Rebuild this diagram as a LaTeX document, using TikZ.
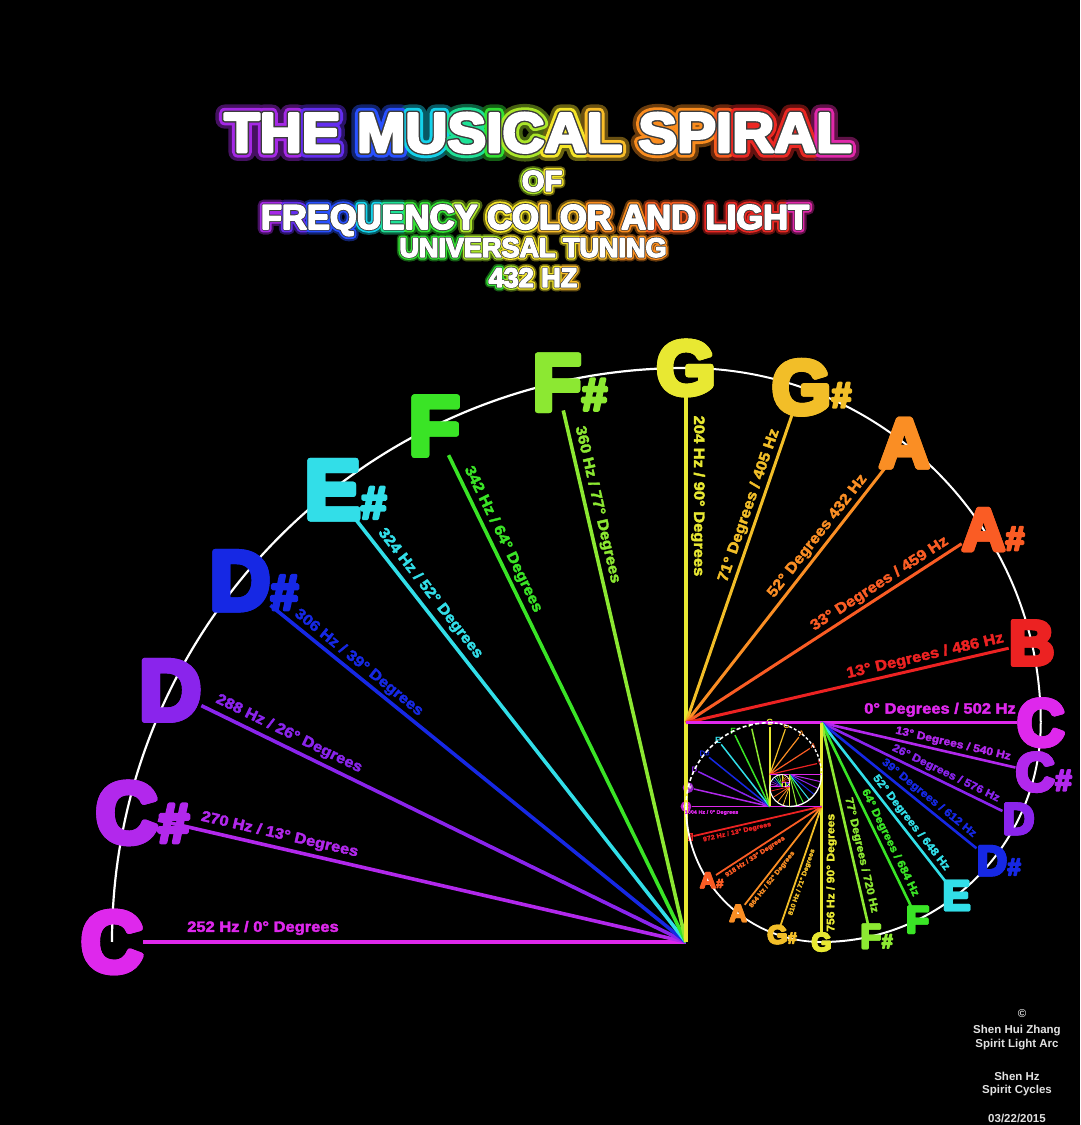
\documentclass[tikz,border=0pt]{standalone}
\usepackage{fontspec}
\setmainfont{Liberation Sans}
\newfontfamily\heavy{Liberation Sans}[BoldFeatures={FakeBold=7}]
\newfontfamily\lblfont{Liberation Sans}[BoldFeatures={FakeBold=2.5,FakeStretch=1.1}]
\newfontfamily\fW{Liberation Sans}[BoldFeatures={FakeBold=5}]
\newfontfamily\fK{Liberation Sans}[BoldFeatures={FakeBold=10}]
\newfontfamily\fGi{Liberation Sans}[BoldFeatures={FakeBold=20}]
\newfontfamily\fGo{Liberation Sans}[BoldFeatures={FakeBold=32}]
\usetikzlibrary{calc}
% note colours
\definecolor{cC}{RGB}{222,40,236}
\definecolor{cCs}{RGB}{178,40,236}
\definecolor{cD}{RGB}{138,36,236}
\definecolor{cDs}{RGB}{22,40,228}
\definecolor{cE}{RGB}{50,222,232}
\definecolor{cF}{RGB}{58,228,38}
\definecolor{cFs}{RGB}{140,232,50}
\definecolor{cG}{RGB}{232,232,50}
\definecolor{cGs}{RGB}{242,190,40}
\definecolor{cA}{RGB}{250,142,36}
\definecolor{cAs}{RGB}{250,92,36}
\definecolor{cB}{RGB}{236,34,34}
% glow colours
\definecolor{gV}{RGB}{165,40,230}
\definecolor{gI}{RGB}{100,45,240}
\definecolor{gB}{RGB}{40,80,255}
\definecolor{gCy}{RGB}{20,210,235}
\definecolor{gT}{RGB}{30,225,150}
\definecolor{gG}{RGB}{50,225,50}
\definecolor{gYG}{RGB}{170,230,40}
\definecolor{gY}{RGB}{245,230,40}
\definecolor{gYO}{RGB}{250,190,40}
\definecolor{gO}{RGB}{250,140,30}
\definecolor{gOR}{RGB}{245,90,30}
\definecolor{gR}{RGB}{235,40,35}
\definecolor{gM}{RGB}{225,40,170}
\definecolor{edge}{RGB}{60,60,60}
\definecolor{credit}{RGB}{225,225,225}
\newcommand\tA[1]{#1\bfseries\fontsize{56}{56}\selectfont}
\newcommand\tB[1]{#1\bfseries\fontsize{29}{29}\selectfont}
\newcommand\tC[1]{#1\bfseries\fontsize{34.5}{34.5}\selectfont}
\newcommand\tD[1]{#1\bfseries\fontsize{27}{27}\selectfont}
\newcommand\TA[1]{#1{gV}{T}#1{gV}{H}#1{gI}{E} #1{gB}{M}#1{gCy}{U}#1{gT}{S}#1{gG}{I}#1{gYG}{C}#1{gY}{A}#1{gYO}{L} #1{gO}{S}#1{gO}{P}#1{gOR}{I}#1{gR}{R}#1{gR}{A}#1{gM}{L}}
\newcommand\TB[1]{#1{gYG}{O}#1{gY}{F}}
\newcommand\TC[1]{#1{gV}{F}#1{gI}{R}#1{gB}{E}#1{gB}{Q}#1{gCy}{U}#1{gT}{E}#1{gG}{N}#1{gG}{C}#1{gYG}{Y} #1{gY}{C}#1{gY}{O}#1{gYO}{L}#1{gYO}{O}#1{gO}{R} #1{gO}{A}#1{gOR}{N}#1{gOR}{D} #1{gR}{L}#1{gR}{I}#1{gR}{G}#1{gR}{H}#1{gM}{T}}
\newcommand\TD[1]{#1{gG}{U}#1{gG}{N}#1{gG}{I}#1{gG}{V}#1{gYG}{E}#1{gYG}{R}#1{gY}{S}#1{gY}{A}#1{gY}{L} #1{gY}{T}#1{gYO}{U}#1{gYO}{N}#1{gO}{I}#1{gO}{N}#1{gO}{G}}
\newcommand\TE[1]{#1{gG}{4}#1{gYG}{3}#1{gY}{2} #1{gY}{H}#1{gYO}{Z}}
\newcommand\wc[2]{\textcolor{white}{#2}}
\newcommand\kc[2]{\textcolor{edge}{#2}}
\newcommand\cc[2]{\textcolor{#1}{#2}}
\newcommand\dc[2]{\textcolor{#1!42!black}{#2}}
% #1 font family, #2 name prefix, #3 colour wrapper
\newcommand\titleset[3]{%
 \node[ttl,font=\tA#1,xscale=1.04] (#2a) at (538,973) {\TA#3};
 \node[ttl,font=\tB#1] (#2b) at (542,934) {\TB#3};
 \node[ttl,font=\tC#1] (#2c) at (535,896) {\TC#3};
 \node[ttl,font=\tD#1] (#2d) at (533,868) {\TD#3};
 \node[ttl,font=\tD#1] (#2e) at (533,838) {\TE#3};}
\newcommand\fanCG[4]{\foreach \dd/\cl in {0/cC,13/cCs,26/cD,39/cDs,52/cE,64/cF,77/cFs,90/cG}{\draw[color=\cl,line width=#4] (#1) -- ++(#3-\dd:#2);}}
\newcommand\fanGC[4]{\foreach \dd/\cl in {0/cG,19/cGs,38/cA,57/cAs,77/cB,90/cC}{\draw[color=\cl,line width=#4] (#1) -- ++(#3-\dd:#2);}}
\begin{document}
\begin{tikzpicture}[x=1pt,y=1pt,
 note/.style={font=\heavy\bfseries\fontsize{#1}{#1}\selectfont, inner sep=0pt, line join=round},
 sharp/.style={font=\heavy\bfseries\fontsize{#1}{#1}\selectfont, inner sep=0pt, anchor=base west, line join=round},
 mini/.style={font=\bfseries\fontsize{#1}{#1}\selectfont, inner sep=0.6pt},
 lbl/.style={font=\lblfont\bfseries\fontsize{#1}{#1}\selectfont, inner sep=0pt, line join=round},
 ray/.style={line width=#1},
 arcw/.style={white, line width=#1},
 ttl/.style={anchor=base, inner sep=0pt, line join=round},
 cred/.style={font=\bfseries\fontsize{11.5}{11.5}\selectfont, text=credit, inner sep=0pt}]
\fill[black] (0,0) rectangle (1080,1125);
\useasboundingbox (0,0) rectangle (1080,1125);

% ---------------- title: glow, edge, white ----------------
\titleset{\fGo}{go}{\dc}
\titleset{\fGi}{gi}{\cc}
\titleset{\fK}{ge}{\kc}
\titleset{\fW}{tw}{\wc}

% ---------------- centres ----------------
\coordinate (O1) at (686,183);
\coordinate (O2) at (686,402.25);
\coordinate (O3) at (821.5,402.25);
\coordinate (O4) at (821.5,318.5);
\coordinate (O5) at (769.75,318.5);
\coordinate (O6) at (769.75,350.49);
\coordinate (O7) at (789.52,350.49);
\coordinate (O8) at (789.52,338.27);
\coordinate (O9) at (781.97,338.27);
\coordinate (O10) at (781.97,342.94);
\coordinate (O11) at (784.85,342.94);

% ---------------- note letters (placement) ----------------
\node[note=86,text=cC] (C1) at ($(O1)+(180:574)$) {C};
\node[note=86,text=cCs] (Cs1) at ($(O1)+(167:574)$) {C};
\node[note=86,text=cD] (D1) at ($(O1)+(154:574)$) {D};
\node[note=84,text=cDs] (Ds1) at ($(O1)+(141:574)$) {D};
\node[note=84,text=cE] (E1) at ($(O1)+(128:574)$) {E};
\node[note=84,text=cF] (F1) at ($(O1)+(116:574)$) {F};
\node[note=80,text=cFs] (Fs1) at ($(O1)+(103:574)$) {F};
\node[note=76,text=cG] (G1) at ($(O1)+(90:574)$) {G};
\node[note=76,text=cGs] (Gs2) at ($(O2)+(71:354.75)$) {G};
\node[note=70,text=cA] (A2) at ($(O2)+(52:354.75)$) {A};
\node[note=60,text=cAs] (As2) at ($(O2)+(33:354.75)$) {A};
\node[note=63,text=cB] (B2) at ($(O2)+(13:354.75)$) {B};
\node[note=66,text=cC] (C2) at ($(O2)+(0:354.75)$) {C};
\node[note=54,text=cCs] (Cs3) at ($(O3)+(-13:219.25)$) {C};
\node[note=44,text=cD] (D3) at ($(O3)+(-26:219.25)$) {D};
\node[note=42,text=cDs] (Ds3) at ($(O3)+(-39:219.25)$) {D};
\node[note=42,text=cE] (E3) at ($(O3)+(-52:219.25)$) {E};
\node[note=38,text=cF] (F3) at ($(O3)+(-64:219.25)$) {F};
\node[note=34,text=cFs] (Fs3) at ($(O3)+(-77:219.25)$) {F};
\node[note=26,text=cG] (G3) at ($(O3)+(-90:219.25)$) {G};
\node[note=26,text=cGs] (Gs4) at ($(O4)+(-109:135.5)$) {G};
\node[note=24,text=cA] (A4) at ($(O4)+(-128:135.5)$) {A};
\node[note=22,text=cAs] (As4) at ($(O4)+(-147:135.5)$) {A};
\node[mini=9,fill=cB,text=cB!45!black] (B4) at ($(O4)+(-167:135.5)$) {B};
\node[mini=8,circle,fill=cC!85!black,text=white,inner sep=1pt] (C4) at ($(O4)+(180:135.5)$) {C};
\node[mini=6,circle,fill=cCs!85!black,text=white,inner sep=0.8pt] (Cs5) at ($(O5)+(167:83.75)$) {C\#};
\node[mini=8,text=cD] (D5) at ($(O5)+(154:83.75)$) {D};
\node[mini=8,text=cDs] (Ds5) at ($(O5)+(141:83.75)$) {D\#};
\node[mini=9,text=cE] (E5) at ($(O5)+(128:83.75)$) {E};
\node[mini=9,text=cF] (F5) at ($(O5)+(116:83.75)$) {F};
\node[mini=9,text=cFs] (Fs5) at ($(O5)+(103:83.75)$) {F};
\node[mini=9,text=cG] (G5) at ($(O5)+(90:83.75)$) {G};
\node[mini=8,text=cGs] (Gs6) at ($(O6)+(71:51.76)$) {G};
\node[mini=8,text=cA] (A6) at ($(O6)+(52:51.76)$) {A};
\node[mini=7,text=cAs] (As6) at ($(O6)+(33:51.76)$) {A};
\node[mini=7,text=cB] (B6) at ($(O6)+(13:51.76)$) {V};
\coordinate (C6) at ($(O6)+(0:51.76)$);

% ---------------- rays ----------------
\foreach \n/\c in {C1/cC,Cs1/cCs,D1/cD,Ds1/cDs,E1/cE,F1/cF,Fs1/cFs,G1/cG}{\draw[ray=3.6,color=\c] (\n) -- (O1);}
\foreach \n/\c in {Gs2/cGs,A2/cA,As2/cAs,B2/cB,C2/cC}{\draw[ray=3,color=\c] (\n) -- (O2);}
\foreach \n/\c in {Cs3/cCs,D3/cD,Ds3/cDs,E3/cE,F3/cF,Fs3/cFs,G3/cG}{\draw[ray=2.6,color=\c] (\n) -- (O3);}
\foreach \n/\c in {Gs4/cGs,A4/cA,As4/cAs,B4/cB,C4/cC}{\draw[ray=1.8,color=\c] (\n) -- (O4);}
\foreach \n/\c in {Cs5/cCs,D5/cD,Ds5/cDs,E5/cE,F5/cF,Fs5/cFs,G5/cG}{\draw[ray=1.5,color=\c] (\n) -- (O5);}
\foreach \n/\c in {Gs6/cGs,A6/cA,As6/cAs,B6/cB,C6/cC}{\draw[ray=1.2,color=\c] (\n) -- (O6);}
\fanCG{O7}{31.99}{0}{1}
\fanGC{O8}{19.77}{-90}{0.8}
\fanCG{O9}{12.22}{180}{0.6}
\fanGC{O10}{7.55}{90}{0.5}
\fanCG{O11}{4.67}{0}{0.4}

% ---------------- white spiral ----------------
\draw[arcw=2.2] (C1.center) arc[start angle=180,end angle=90,radius=574];
\draw[arcw=2] (G1.center) arc[start angle=90,end angle=0,radius=354.75];
\draw[arcw=2] (C2.center) arc[start angle=0,end angle=-90,radius=219.25];
\draw[arcw=1.8] (G3.center) arc[start angle=-90,end angle=-180,radius=135.5];
\draw[arcw=1.6,dash pattern=on 4pt off 2.5pt] (C4.center) arc[start angle=180,end angle=90,radius=83.75];
\draw[arcw=1.4,dash pattern=on 3pt off 2pt] (G5.center) arc[start angle=90,end angle=0,radius=51.76];
\draw[arcw=1.3] (C6) arc[start angle=0,end angle=-90,radius=31.99];
\draw[arcw=1.1] ($(O8)+(-90:19.77)$) arc[start angle=-90,end angle=-180,radius=19.77];
\draw[arcw=0.9] ($(O9)+(180:12.22)$) arc[start angle=180,end angle=90,radius=12.22];
\draw[arcw=0.7] ($(O10)+(90:7.55)$) arc[start angle=90,end angle=0,radius=7.55];
\draw[arcw=0.5] ($(O11)+(0:4.67)$) arc[start angle=0,end angle=-90,radius=4.67];

% ---------------- letters drawn above the spiral ----------------
\node[note=86,text=cC] (C1t) at (C1) {C};
\node[note=86,text=cCs] (Cs1t) at (Cs1) {C};
\node[sharp=56,text=cCs] (Cs1h) at (Cs1.base east) {\#};
\node[note=86,text=cD] (D1t) at (D1) {D};
\node[note=84,text=cDs] (Ds1t) at (Ds1) {D};
\node[sharp=50,text=cDs] (Ds1h) at (Ds1.base east) {\#};
\node[note=84,text=cE] (E1t) at (E1) {E};
\node[sharp=46,text=cE] (E1h) at (E1.base east) {\#};
\node[note=84,text=cF] (F1t) at (F1) {F};
\node[note=80,text=cFs] (Fs1t) at (Fs1) {F};
\node[sharp=46,text=cFs] (Fs1h) at (Fs1.base east) {\#};
\node[note=76,text=cG] (G1t) at (G1) {G};
\node[note=76,text=cGs] (Gs2t) at (Gs2) {G};
\node[sharp=36,text=cGs] (Gs2h) at ($(Gs2.base east)+(0,6)$) {\#};
\node[note=70,text=cA] (A2t) at (A2) {A};
\node[note=60,text=cAs] (As2t) at (As2) {A};
\node[sharp=34,text=cAs] (As2h) at (As2.base east) {\#};
\node[note=63,text=cB] (B2t) at (B2) {B};
\node[note=66,text=cC] (C2t) at (C2) {C};
\node[note=54,text=cCs] (Cs3t) at (Cs3) {C};
\node[sharp=30,text=cCs] (Cs3h) at (Cs3.base east) {\#};
\node[note=44,text=cD] (D3t) at (D3) {D};
\node[note=42,text=cDs] (Ds3t) at (Ds3) {D};
\node[sharp=24,text=cDs] (Ds3h) at (Ds3.base east) {\#};
\node[note=42,text=cE] (E3t) at (E3) {E};
\node[note=38,text=cF] (F3t) at (F3) {F};
\node[note=34,text=cFs] (Fs3t) at (Fs3) {F};
\node[sharp=20,text=cFs] (Fs3h) at (Fs3.base east) {\#};
\node[note=26,text=cG] (G3t) at (G3) {G};
\node[note=26,text=cGs] (Gs4t) at (Gs4) {G};
\node[sharp=16,text=cGs] (Gs4h) at (Gs4.base east) {\#};
\node[note=24,text=cA] (A4t) at (A4) {A};
\node[note=22,text=cAs] (As4t) at (As4) {A};
\node[sharp=13,text=cAs] (As4h) at (As4.base east) {\#};

% ---------------- labels ----------------
\node[lbl=15,text=cC] (L1a) at ($(O1)+(180:423)+(90:14)$) {252 Hz / 0° Degrees};
\node[lbl=15,text=cCs,rotate=-13] (L1b) at ($(O1)+(167:420)+(77:13)$) {270 Hz / 13° Degrees};
\node[lbl=15,text=cD,rotate=-26] (L1c) at ($(O1)+(154:448)+(64:13)$) {288 Hz / 26° Degrees};
\node[lbl=15,text=cDs,rotate=-39] (L1d) at ($(O1)+(141:430)+(51:11)$) {306 Hz / 39° Degrees};
\node[lbl=15,text=cE,rotate=-52] (L1e) at ($(O1)+(128:432)+(38:13)$) {324 Hz / 52° Degrees};
\node[lbl=15,text=cF,rotate=-64] (L1f) at ($(O1)+(116:442)+(26:12)$) {342 Hz / 64° Degrees};
\node[lbl=15,text=cFs,rotate=-77] (L1g) at ($(O1)+(103:446)+(13:12)$) {360 Hz / 77° Degrees};
\node[lbl=15,text=cG,rotate=-90] (L1h) at ($(O1)+(90:446)+(0:12)$) {204 Hz / 90° Degrees};

\node[lbl=15,text=cGs,rotate=71] (L2a) at ($(O2)+(71:226)+(161:11)$) {71° Degrees / 405 Hz};
\node[lbl=15,text=cA,rotate=52] (L2b) at ($(O2)+(52:228)+(142:11)$) {52° Degrees 432 Hz};
\node[lbl=15,text=cAs,rotate=33] (L2c) at ($(O2)+(33:238)+(123:11)$) {33° Degrees / 459 Hz};
\node[lbl=15,text=cB,rotate=13] (L2d) at ($(O2)+(13:248)+(103:11)$) {13° Degrees / 486 Hz};
\node[lbl=15,text=cC] (L2e) at ($(O2)+(0:254)+(90:13)$) {0° Degrees / 502 Hz};

\node[lbl=11,text=cCs,rotate=-13] (L3a) at ($(O3)+(-13:133)+(77:9)$) {13° Degrees / 540 Hz};
\node[lbl=11,text=cD,rotate=-26] (L3b) at ($(O3)+(-26:134)+(64:9)$) {26° Degrees / 576 Hz};
\node[lbl=11,text=cDs,rotate=-39] (L3c) at ($(O3)+(-39:131)+(51:9)$) {39° Degrees / 612 Hz};
\node[lbl=11,text=cE,rotate=-52] (L3d) at ($(O3)+(-52:134)+(38:9)$) {52° Degrees / 648 Hz};
\node[lbl=11,text=cF,rotate=-64] (L3e) at ($(O3)+(-64:138)+(26:9)$) {64° Degrees / 684 Hz};
\node[lbl=11,text=cFs,rotate=-77] (L3f) at ($(O3)+(-77:138)+(13:9)$) {77° Degrees / 720 Hz};
\node[lbl=11,text=cG,rotate=90] (L3g) at ($(O3)+(-90:150)+(0:10)$) {756 Hz / 90° Degrees};

\node[lbl=6.5,text=cGs,rotate=71] (L4a) at ($(O4)+(-109:78)+(-19:6)$) {810 Hz / 71° Degrees};
\node[lbl=6.5,text=cA,rotate=52] (L4b) at ($(O4)+(-128:88)+(-38:6)$) {864 Hz / 52° Degrees};
\node[lbl=6.5,text=cAs,rotate=33] (L4c) at ($(O4)+(-147:83)+(-57:6)$) {918 Hz / 33° Degrees};
\node[lbl=6.5,text=cB,rotate=13] (L4d) at ($(O4)+(-167:88)+(-77:6)$) {972 Hz / 13° Degrees};
\node[lbl=5,text=cC] (L4e) at ($(O4)+(180:110)+(-90:6)$) {1004 Hz / 0° Degrees};

% ---------------- credits ----------------
\node[cred] (cr0) at (1022,111) {©};
\node[cred] (cr1) at (1017,94) {Shen Hui Zhang};
\node[cred] (cr2) at (1017,80) {Spirit Light Arc};
\node[cred] (cr3) at (1017,49) {Shen Hz};
\node[cred] (cr4) at (1017,34) {Spirit Cycles};
\node[cred] (cr5) at (1017,7) {03/22/2015};
\end{tikzpicture}
\end{document}
